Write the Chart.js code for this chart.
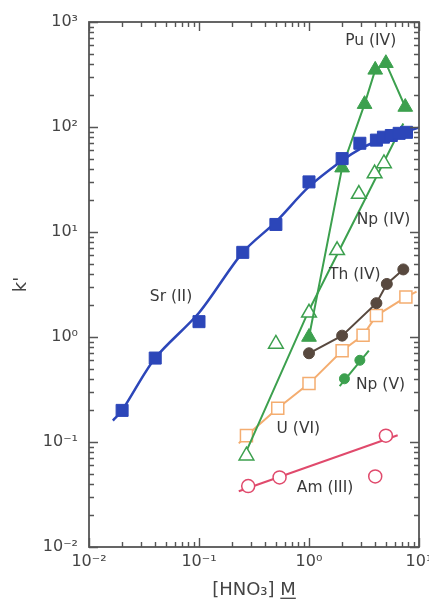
<!DOCTYPE html>
<html><head><meta charset="utf-8">
<script src="https://cdn.jsdelivr.net/npm/chart.js@4/dist/chart.umd.min.js"></script>
<style>html,body{margin:0;padding:0;background:#fff}#wrap{width:429px;height:605px;position:relative}</style>
</head><body><div id="wrap"><canvas id="c" width="429" height="605"></canvas></div>
<script>
// ---- tick values / labels ----
const xTickValues = [0.01, 0.1, 1, 10];
const xTickLabels = ['10\u207B\u00B2', '10\u207B\u00B9', '10\u2070', '10\u00B9'];
const yTickValues = [0.01, 0.1, 1, 10, 100, 1000];
const yTickLabels = ['10\u207B\u00B2', '10\u207B\u00B9', '10\u2070', '10\u00B9', '10\u00B2', '10\u00B3'];

// ---- data (markers) ----
const srX = [0.02, 0.04, 0.1, 0.25, 0.5, 1, 2, 2.9, 4.1, 4.75, 5.6, 6.6, 7.7];
const srY = [0.2, 0.63, 1.4, 6.4, 11.8, 30, 50, 70, 75, 80, 83, 87, 89];
const puX = [1, 2, 3.2, 4, 5, 7.5];
const puY = [1.0, 41, 165, 350, 405, 155];
const np4X = [0.27, 0.5, 1, 1.8, 2.84, 3.95, 4.8];
const np4Y = [0.074, 0.86, 1.7, 6.7, 23, 36, 45];
const thX = [1, 2, 4.1, 5.1, 7.2];
const thY = [0.7, 1.03, 2.1, 3.2, 4.4];
const uX = [0.27, 0.52, 1, 2, 3.1, 4.1, 7.6];
const uY = [0.115, 0.21, 0.36, 0.74, 1.04, 1.6, 2.4];
const np5X = [2.1, 2.9];
const np5Y = [0.40, 0.60];
const amX = [0.28, 0.54, 4.0, 5.0];
const amY = [0.038, 0.046, 0.047, 0.115];

// ---- fitted curves ----
const srFitX = [0.0165, 0.02, 0.04, 0.1, 0.25, 0.5, 1, 2, 3, 4, 6, 9.8];
const srFitY = [0.16, 0.2, 0.63, 1.7, 6.4, 12.5, 27, 48, 63, 72, 84, 98];
const puFitX = [1, 2, 3.2, 4, 5, 7.5];
const puFitY = [1.0, 41, 165, 350, 405, 155];
const np4FitX = [0.26, 1, 7.2];
const np4FitY = [0.075, 1.8, 108];
const thFitX = [1, 2, 4.1, 5.1, 7.2];
const thFitY = [0.7, 1.03, 2.1, 3.2, 4.4];
const uFitX = [0.23, 0.27, 0.52, 1, 2, 3.1, 4.1, 7.6, 9.5];
const uFitY = [0.097, 0.115, 0.21, 0.36, 0.74, 1.04, 1.6, 2.4, 2.7];
const np5FitX = [1.9, 3.5];
const np5FitY = [0.34, 0.74];
const amFitX = [0.23, 6.4];
const amFitY = [0.034, 0.116];

// ---- in-plot series labels ----
const seriesLabelText = ['Pu (IV)', 'Np (IV)', 'Th (IV)', 'Sr (II)', 'Np (V)', 'U (VI)', 'Am (III)'];
const seriesLabelX = [3.64, 4.76, 2.61, 0.0557, 4.47, 0.80, 1.40];
const seriesLabelY = [659, 12.9, 3.94, 2.38, 0.351, 0.134, 0.0366];

const FONT = "'DejaVu Sans', 'Liberation Sans', sans-serif";

function pts(xs, ys) { return xs.map((x, i) => ({ x: x, y: ys[i] })); }
function markers(label, xs, ys, style, r, fill, border, bw) {
  return { label, data: pts(xs, ys), showLine: false, pointStyle: style, pointRadius: r,
    pointBackgroundColor: fill, pointBorderColor: border, pointBorderWidth: bw };
}
function fit(label, xs, ys, color, w, tension) {
  return { label, data: pts(xs, ys), showLine: true, pointRadius: 0, borderColor: color,
    borderWidth: w, tension: tension || 0 };
}

const BLUE = '#2c46b9', GREEN = '#3ca04e', BROWN = '#58493f', ORANGE = '#f4ad70', RED = '#e04a6c';

const datasets = [
  markers('Sr (II)', srX, srY, 'rect', 8.5, BLUE, BLUE, 1),
  fit('Sr fit', srFitX, srFitY, BLUE, 2.5, 0.3),
  markers('Pu (IV)', puX, puY, 'triangle', 8.5, GREEN, GREEN, 1),
  fit('Pu fit', puFitX, puFitY, GREEN, 2, 0),
  markers('Np (IV)', np4X, np4Y, 'triangle', 8.5, '#ffffff', GREEN, 1.5),
  fit('Np (IV) fit', np4FitX, np4FitY, GREEN, 2, 0),
  markers('Th (IV)', thX, thY, 'circle', 5.5, BROWN, BROWN, 1),
  fit('Th fit', thFitX, thFitY, BROWN, 2, 0),
  markers('Np (V)', np5X, np5Y, 'circle', 5, GREEN, GREEN, 1),
  fit('Np (V) fit', np5FitX, np5FitY, GREEN, 2, 0),
  markers('U (VI)', uX, uY, 'rect', 8.5, '#ffffff', ORANGE, 1.5),
  fit('U fit', uFitX, uFitY, ORANGE, 2, 0),
  markers('Am (III)', amX, amY, 'circle', 6.5, '#ffffff', RED, 1.5),
  fit('Am fit', amFitX, amFitY, RED, 2, 0)
];

function decadeLabel(values, labels) {
  return function (v) {
    for (let i = 0; i < values.length; i++) {
      if (Math.abs(Math.log10(v) - Math.log10(values[i])) < 1e-6) return labels[i];
    }
    return '';
  };
}

const frameTicks = {
  id: 'frameTicks',
  afterDatasetsDraw(chart) {
    const { ctx, chartArea: a, scales: { x, y } } = chart;
    ctx.save();
    ctx.strokeStyle = '#555';
    ctx.lineWidth = 1.4;
    ctx.beginPath();
    const xmin = Math.round(Math.log10(x.min)), xmax = Math.round(Math.log10(x.max));
    for (let e = xmin; e <= xmax; e++) {
      for (let m = 1; m < 10; m++) {
        const v = m * Math.pow(10, e);
        if (v > x.max * 1.0001) break;
        const px = Math.round(x.getPixelForValue(v)) + 0.5;
        const L = m === 1 ? 9 : 5;
        ctx.moveTo(px, a.bottom); ctx.lineTo(px, a.bottom - L);
        ctx.moveTo(px, a.top); ctx.lineTo(px, a.top + L);
      }
    }
    const ymin = Math.round(Math.log10(y.min)), ymax = Math.round(Math.log10(y.max));
    for (let e = ymin; e <= ymax; e++) {
      for (let m = 1; m < 10; m++) {
        const v = m * Math.pow(10, e);
        if (v > y.max * 1.0001) break;
        const py = Math.round(y.getPixelForValue(v)) + 0.5;
        const L = m === 1 ? 9 : 5;
        ctx.moveTo(a.left, py); ctx.lineTo(a.left + L, py);
        ctx.moveTo(a.right, py); ctx.lineTo(a.right - L, py);
      }
    }
    ctx.stroke();
    ctx.lineWidth = 1.8;
    ctx.strokeRect(a.left, a.top, a.right - a.left, a.bottom - a.top);

    // series labels
    ctx.fillStyle = '#3a3a3a';
    ctx.font = '15.5px ' + FONT;
    ctx.textAlign = 'center';
    ctx.textBaseline = 'middle';
    for (let i = 0; i < seriesLabelText.length; i++) {
      ctx.fillText(seriesLabelText[i], x.getPixelForValue(seriesLabelX[i]), y.getPixelForValue(seriesLabelY[i]));
    }

    // underline the "M" of the x-axis title
    const t = x.options.title;
    ctx.font = t.font.size + 'px ' + FONT;
    const full = ctx.measureText(t.text).width;
    const mW = ctx.measureText('M').width;
    const cx = (a.left + a.right) / 2;
    const xr = cx + full / 2;
    const lh = t.font.size * 1.2;
    const ty = x.bottom - lh / 2 - t.padding.bottom;
    ctx.strokeStyle = '#444';
    ctx.lineWidth = 1.3;
    ctx.beginPath();
    ctx.moveTo(xr - mW, ty + t.font.size * 0.45);
    ctx.lineTo(xr, ty + t.font.size * 0.45);
    ctx.stroke();
    ctx.restore();
  }
};

new Chart(document.getElementById('c'), {
  type: 'scatter',
  data: { datasets },
  options: {
    responsive: false,
    animation: false,
    layout: { padding: { top: 22, right: 8, left: 0, bottom: 0 } },
    plugins: { legend: { display: false }, tooltip: { enabled: false } },
    scales: {
      x: {
        type: 'logarithmic', min: 0.01, max: 10,
        grid: { display: false, drawTicks: false }, border: { display: false },
        ticks: { autoSkip: false, maxRotation: 0, minRotation: 0, padding: 5, color: '#444',
          font: { family: FONT, size: 16 }, callback: decadeLabel(xTickValues, xTickLabels) },
        title: { display: true, text: '[HNO\u2083] M', color: '#444',
          font: { family: FONT, size: 18 }, padding: { top: 0, bottom: 4 } },
        afterFit(s) { s.height = 58; s.paddingLeft = 0; s.paddingRight = 0; }
      },
      y: {
        type: 'logarithmic', min: 0.01, max: 1000,
        grid: { display: false, drawTicks: false }, border: { display: false },
        ticks: { autoSkip: false, padding: 11, color: '#444',
          font: { family: FONT, size: 16 }, callback: decadeLabel(yTickValues, yTickLabels) },
        title: { display: true, text: "k'", color: '#444',
          font: { family: FONT, size: 18 }, padding: { top: 11, bottom: 0 } },
        afterFit(s) { s.width = 89; s.paddingTop = 0; s.paddingBottom = 0; }
      }
    }
  },
  plugins: [frameTicks]
});
</script>
</body></html>
